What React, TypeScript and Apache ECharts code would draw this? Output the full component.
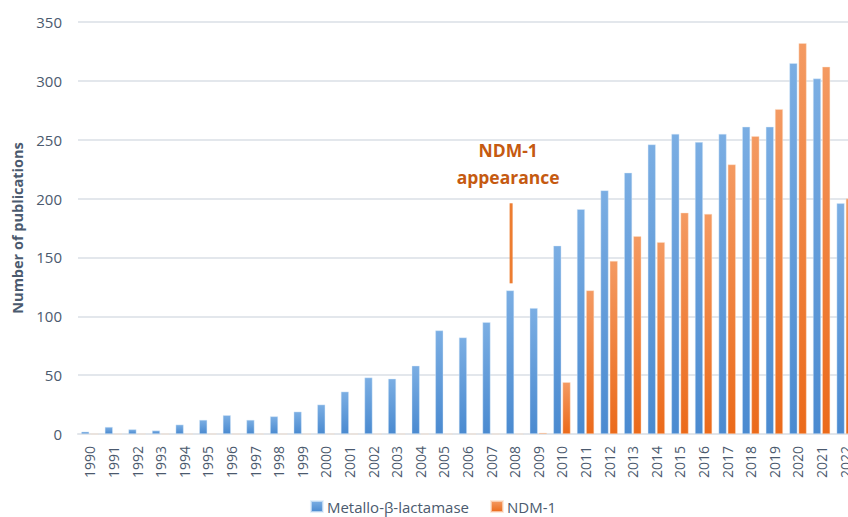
import React, { useEffect, useRef } from "react";
import * as echarts from "echarts";

const years = [
  "1990","1991","1992","1993","1994","1995","1996","1997","1998","1999",
  "2000","2001","2002","2003","2004","2005","2006","2007","2008","2009",
  "2010","2011","2012","2013","2014","2015","2016","2017","2018","2019",
  "2020","2021","2022",
];

const mblValues = [
  2, 6, 4, 3, 8, 12, 16, 12, 15, 19,
  25, 36, 48, 47, 58, 88, 82, 95, 122, 107,
  160, 191, 207, 222, 246, 255, 248, 255, 261, 261,
  315, 302, 196,
];

const ndmValues = [
  0, 0, 0, 0, 0, 0, 0, 0, 0, 0,
  0, 0, 0, 0, 0, 0, 0, 0, 0, 1,
  44, 122, 147, 168, 163, 188, 187, 229, 253, 276,
  332, 312, 200,
];

const seriesNames = ["Metallo-β-lactamase", "NDM-1"];
const yTicks = { min: 0, max: 350, interval: 50 };
const annotationYear = "2008";
const annotationRange = [128, 196];
const annotationText = ["NDM-1", "appearance"];

const BAR_W = 8;
const GAP_PCT = 15;

export default function App() {
  const ref = useRef<HTMLDivElement>(null);

  useEffect(() => {
    if (!ref.current) return;
    const chart = echarts.init(ref.current, undefined, { renderer: "svg" });
    const textColor = "#4B5A6E";
    const blue = new echarts.graphic.LinearGradient(0, 0, 0, 1, [
      { offset: 0, color: "#7BAEE3" },
      { offset: 1, color: "#4A8AD0" },
    ]);
    const orange = new echarts.graphic.LinearGradient(0, 0, 0, 1, [
      { offset: 0, color: "#F49A62" },
      { offset: 1, color: "#EB6A1A" },
    ]);
    chart.setOption({
      animation: false,
      grid: { left: 78, right: 9, top: 22, bottom: 83, containLabel: false },
      legend: {
        top: 494,
        left: "center",
        itemWidth: 12,
        itemHeight: 11,
        itemGap: 21,
        icon: "rect",
        textStyle: { color: textColor, fontSize: 15, fontFamily: "Open Sans", padding: [0, 0, 0, -1] },
        data: seriesNames,
      },
      xAxis: {
        type: "category",
        data: years,
        axisLine: { show: true, lineStyle: { color: "#E1E5EA", width: 2 } },
        axisTick: { show: false },
        axisLabel: {
          rotate: 90,
          interval: 0,
          margin: 12,
          color: textColor,
          fontSize: 14,
          fontFamily: "Open Sans",
        },
      },
      yAxis: {
        type: "value",
        min: yTicks.min,
        max: yTicks.max,
        interval: yTicks.interval,
        name: "Number of publications",
        nameLocation: "middle",
        nameGap: 52,
        nameTextStyle: { color: textColor, fontSize: 14.5, fontWeight: "bold", fontFamily: "Open Sans" },
        axisLine: { show: false },
        axisTick: { show: false },
        axisLabel: { color: textColor, fontSize: 15, fontFamily: "Open Sans", margin: 16 },
        splitLine: { lineStyle: { color: "#E3E7EC", width: 2 } },
      },
      series: [
        {
          name: seriesNames[0],
          type: "bar",
          data: mblValues,
          barWidth: BAR_W,
          barGap: GAP_PCT + "%",
          itemStyle: { color: blue, borderColor: "rgba(220,235,250,0.7)", borderWidth: 0.6 },
        },
        {
          name: seriesNames[1],
          type: "bar",
          data: ndmValues,
          barWidth: BAR_W,
          barGap: GAP_PCT + "%",
          itemStyle: { color: orange, borderColor: "rgba(252,225,205,0.7)", borderWidth: 0.6 },
        },
      ],
    });

    const p1 = chart.convertToPixel({ xAxisIndex: 0, yAxisIndex: 0 }, [annotationYear, annotationRange[0]]) as number[];
    const p2 = chart.convertToPixel({ xAxisIndex: 0, yAxisIndex: 0 }, [annotationYear, annotationRange[1]]) as number[];
    const offset = (BAR_W + (BAR_W * GAP_PCT) / 100) / 2;
    const lx = p1[0] - offset + 1;
    chart.setOption({
      graphic: [
        {
          type: "line",
          shape: { x1: lx, y1: p1[1], x2: lx, y2: p2[1] },
          style: { stroke: "#ED7D31", lineWidth: 3 },
        },
        {
          type: "text",
          x: lx - 3,
          y: 150,
          style: {
            text: annotationText[0],
            fill: "#C55A11",
            font: "bold 17.5px 'Open Sans'",
            textAlign: "center",
            textVerticalAlign: "middle",
          },
        },
        {
          type: "text",
          x: lx - 3,
          y: 177,
          style: {
            text: annotationText[1],
            fill: "#C55A11",
            font: "bold 17.5px 'Open Sans'",
            textAlign: "center",
            textVerticalAlign: "middle",
          },
        },
      ],
    });
    return () => chart.dispose();
  }, []);

  return (
    <div style={{ position: "fixed", left: 0, top: 0, width: 848, height: 517, overflow: "hidden", background: "#fff" }}>
      <div ref={ref} style={{ width: 866, height: 517 }} />
    </div>
  );
}
